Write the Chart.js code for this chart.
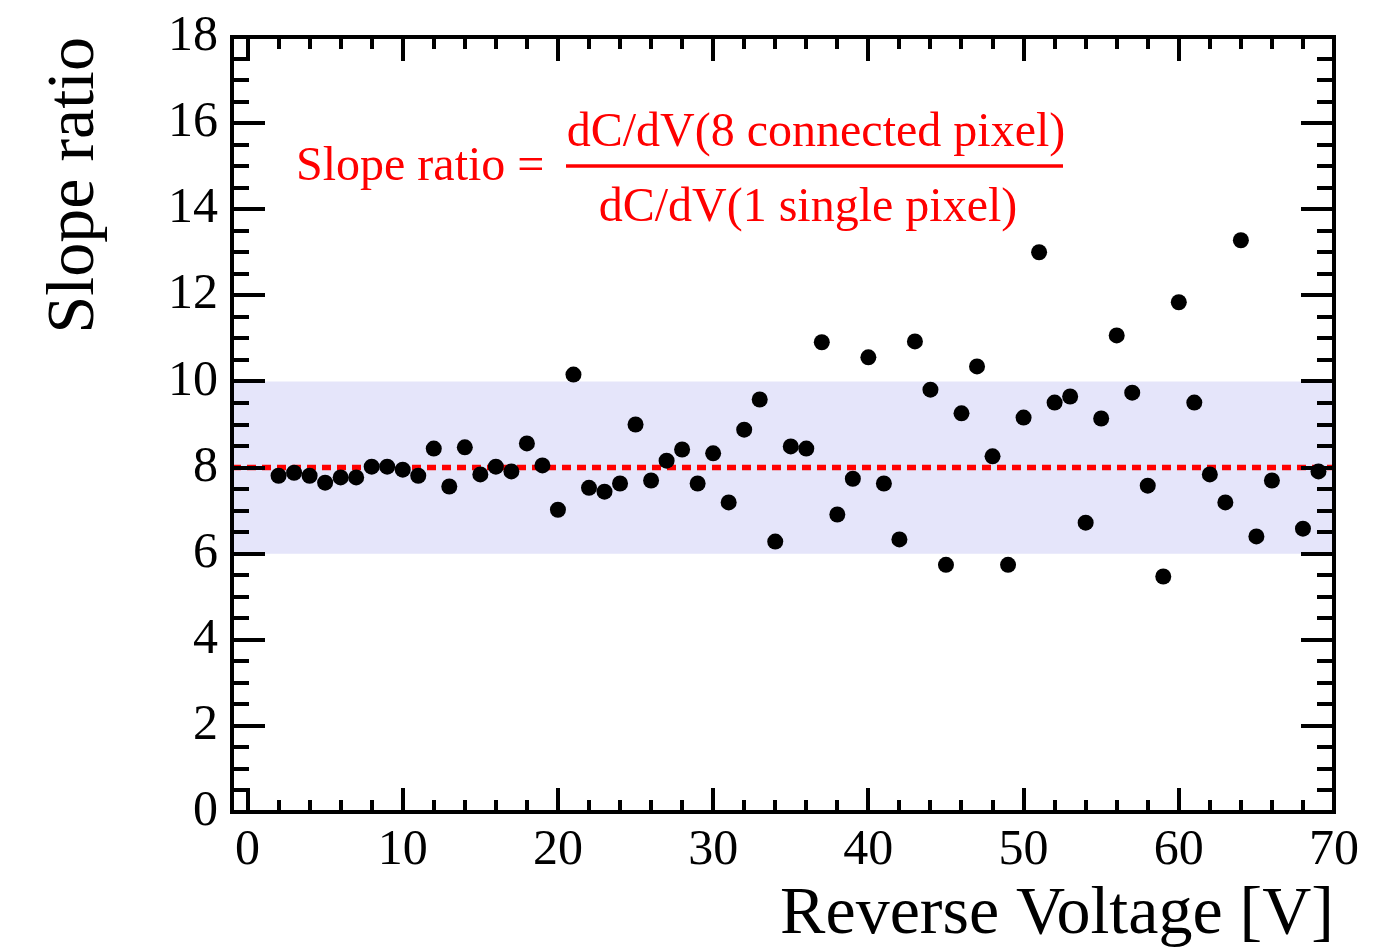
<!DOCTYPE html>
<html>
<head>
<meta charset="utf-8">
<script src="https://cdn.jsdelivr.net/npm/chart.js@4.4.1/dist/chart.umd.min.js"></script>
<style>
html,body{margin:0;padding:0;background:#fff;}
#wrap{width:1393px;height:951px;position:relative;}
canvas{display:block;}
</style>
</head>
<body>
<div id="wrap"><canvas id="c" width="1393" height="951"></canvas></div>
<script>
// ---- data ----
const voltages = [2,3,4,5,6,7,8,9,10,11,12,13,14,15,16,17,18,19,20,21,22,23,24,25,26,27,28,29,30,31,32,33,34,35,36,37,38,39,40,41,42,43,44,45,46,47,48,49,50,51,52,53,54,55,56,57,58,59,60,61,62,63,64,65,66,68,69];
const slopeRatio = [7.81,7.88,7.81,7.65,7.77,7.77,8.02,8.02,7.95,7.81,8.44,7.56,8.47,7.84,8.02,7.91,8.56,8.05,7.02,10.16,7.53,7.44,7.63,9.00,7.70,8.16,8.42,7.63,8.33,7.19,8.88,9.58,6.28,8.49,8.44,10.91,6.91,7.74,10.56,7.63,6.33,10.93,9.81,5.74,9.26,10.35,8.26,5.74,9.16,13.00,9.51,9.65,6.72,9.14,11.07,9.74,7.58,5.47,11.84,9.51,7.84,7.19,13.28,6.40,7.70,6.58,7.91];
const xRange = [-1, 70];
const yRange = [0, 18];
const referenceRatio = [8, 8];
const bandLow = 6;
const bandHigh = [10, 10];
const xTitle = "Reverse Voltage [V]";
const yTitle = "Slope ratio";
const formulaLeft = "Slope ratio =";
const formulaNum = "dC/dV(8 connected pixel)";
const formulaDen = "dC/dV(1 single pixel)";

const FONT = "'Liberation Serif','Times New Roman',serif";

const points = voltages.map((v, i) => ({x: v, y: slopeRatio[i]}));
const refLine = xRange.map((x, i) => ({x: x, y: referenceRatio[i]}));
const band = xRange.map((x, i) => ({x: x, y: bandHigh[i]}));

const framePlugin = {
  id: 'rootFrame',
  afterDatasetsDraw(chart) {
    const ctx = chart.ctx;
    const a = chart.chartArea;
    const xs = chart.scales.x, ys = chart.scales.y;
    ctx.save();
    ctx.strokeStyle = '#000';
    ctx.lineWidth = 4;
    ctx.lineCap = 'butt';
    ctx.beginPath();
    for (let v = 0; v <= 70; v += 2) {
      const px = Math.round(xs.getPixelForValue(v));
      const len = (v % 10 === 0) ? 24 : 12;
      ctx.moveTo(px, a.bottom); ctx.lineTo(px, a.bottom - len);
      ctx.moveTo(px, a.top); ctx.lineTo(px, a.top + len);
    }
    for (let v = 0; v <= 18; v += 0.5) {
      const py = Math.round(ys.getPixelForValue(v));
      const len = (Math.abs(v % 2) < 1e-9) ? 33 : 17;
      ctx.moveTo(a.left, py); ctx.lineTo(a.left + len, py);
      ctx.moveTo(a.right, py); ctx.lineTo(a.right - len, py);
    }
    ctx.stroke();
    ctx.lineWidth = 4;
    ctx.strokeRect(a.left, a.top, a.right - a.left, a.bottom - a.top);

    // formula annotation
    ctx.fillStyle = '#ff0000';
    ctx.strokeStyle = '#ff0000';
    ctx.font = "48px " + FONT;
    ctx.textBaseline = 'alphabetic';
    ctx.textAlign = 'left';
    ctx.fillText(formulaLeft, 296, 180);
    ctx.textAlign = 'center';
    ctx.fillText(formulaNum, 816, 146);
    ctx.fillText(formulaDen, 808, 221);
    ctx.lineWidth = 3.5;
    ctx.beginPath();
    ctx.moveTo(566, 166); ctx.lineTo(1063, 166);
    ctx.stroke();
    ctx.restore();
  }
};

new Chart(document.getElementById('c'), {
  type: 'scatter',
  data: {
    datasets: [
      {
        type: 'line',
        data: band,
        fill: {value: bandLow},
        backgroundColor: 'rgb(229,229,250)',
        borderWidth: 0,
        pointRadius: 0,
        order: 3
      },
      {
        type: 'line',
        data: refLine,
        fill: false,
        borderColor: '#ff0000',
        borderWidth: 5.5,
        borderDash: [9, 6],
        pointRadius: 0,
        order: 2
      },
      {
        data: points,
        backgroundColor: '#000',
        borderWidth: 0,
        pointRadius: 8,
        pointHoverRadius: 8,
        order: 1
      }
    ]
  },
  options: {
    responsive: false,
    devicePixelRatio: 1,
    animation: false,
    layout: {autoPadding: false, padding: {left: 0, top: 37, right: 59, bottom: 0}},
    plugins: {legend: {display: false}, tooltip: {enabled: false}},
    scales: {
      x: {
        type: 'linear',
        position: 'bottom',
        min: xRange[0], max: xRange[1],
        grid: {display: false, drawTicks: false},
        border: {display: false},
        ticks: {stepSize: 10, includeBounds: false, autoSkip: false, maxRotation: 0, color: '#000', padding: 9, font: {family: FONT, size: 50}},
        title: {display: true, text: xTitle, align: 'end', color: '#000', font: {family: FONT, size: 68, lineHeight: 1.1}, padding: {top: 0, bottom: -2}},
        afterFit(scale) { scale.height = 139; scale.paddingLeft = 0; scale.paddingRight = 0; }
      },
      y: {
        type: 'linear',
        position: 'left',
        min: yRange[0], max: yRange[1],
        grid: {display: false, drawTicks: false},
        border: {display: false},
        ticks: {stepSize: 2, includeBounds: false, autoSkip: false, color: '#000', padding: 14, font: {family: FONT, size: 50}},
        title: {display: true, text: yTitle, align: 'end', color: '#000', font: {family: FONT, size: 68, lineHeight: 1.1}, padding: {top: 38, bottom: 0}},
        afterFit(scale) { scale.width = 232; scale.paddingTop = 0; scale.paddingBottom = 0; }
      }
    }
  },
  plugins: [framePlugin]
});
</script>
</body>
</html>
